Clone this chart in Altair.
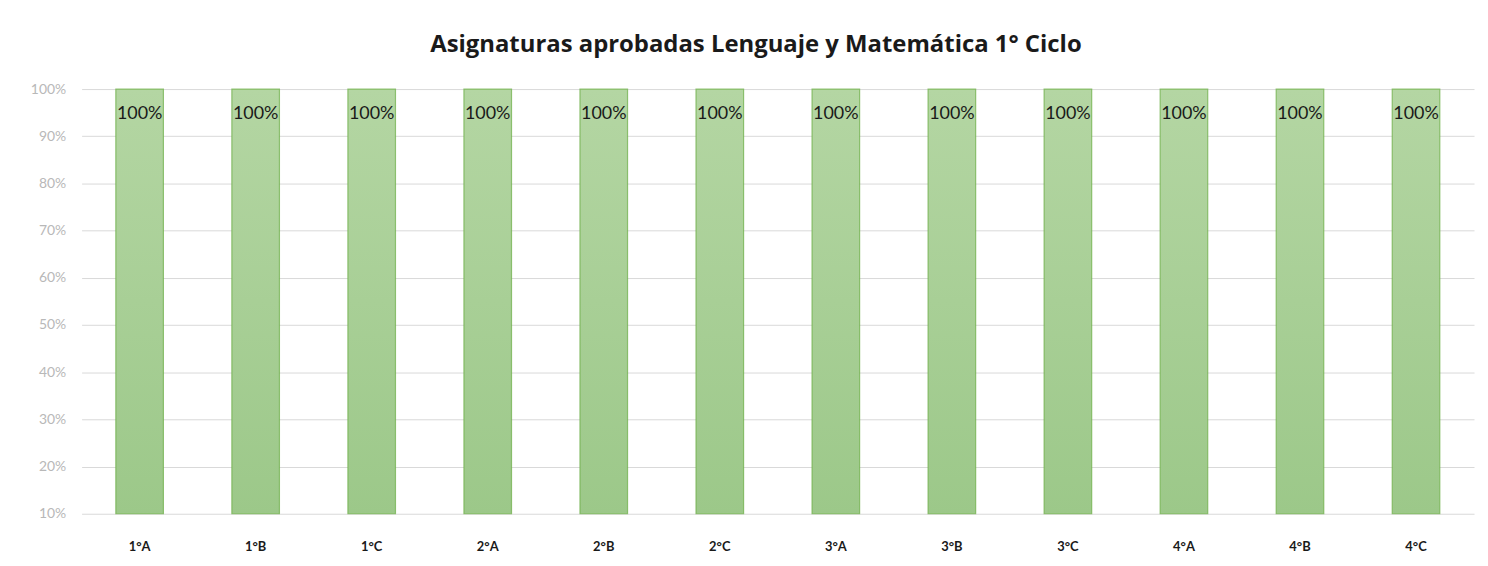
import altair as alt
import pandas as pd

categories = ["1°A", "1°B", "1°C", "2°A", "2°B", "2°C", "3°A", "3°B", "3°C", "4°A", "4°B", "4°C"]
values = [1.0, 1.0, 1.0, 1.0, 1.0, 1.0, 1.0, 1.0, 1.0, 1.0, 1.0, 1.0]
y_ticks = [0.1, 0.2, 0.3, 0.4, 0.5, 0.6, 0.7, 0.8, 0.9, 1.0]

df = pd.DataFrame({"curso": categories, "valor": values})
df["etiqueta"] = [f"{round(v * 100)}%" for v in values]

x_enc = alt.X("curso:N", sort=categories, title=None,
              scale=alt.Scale(paddingInner=0.59, paddingOuter=0.295),
              axis=alt.Axis(labelAngle=0, labelFont="Lato", labelFontWeight="bold",
                            labelFontSize=13, labelColor="#1a1a1a", ticks=False,
                            domain=False, labelPadding=27))
y_scale = alt.Scale(domain=[0.1, 1.0], nice=False, zero=False)

bars = alt.Chart(df).mark_bar(
    fill=alt.Gradient(gradient="linear",
                      stops=[alt.GradientStop(color="#b4d6a3", offset=0),
                             alt.GradientStop(color="#9cc889", offset=1)],
                      x1=0, x2=0, y1=0, y2=1),
    stroke="#70b04c", strokeWidth=1.2, strokeOpacity=0.75,
).encode(
    x=x_enc,
    y=alt.Y("valor:Q", scale=y_scale, title=None,
            axis=alt.Axis(values=y_ticks, format=".0%", labelFont="Lato",
                          labelFontSize=14, labelColor="#b8b8b8", ticks=False,
                          domain=False, gridColor="#d9d9d9", gridWidth=1,
                          labelPadding=16)),
    y2=alt.datum(0.1),
)

labels = alt.Chart(df).mark_text(
    font="Lato", fontSize=18, color="#1a1a1a", baseline="middle", dy=25
).encode(
    x=alt.X("curso:N", sort=categories),
    y=alt.Y("valor:Q", scale=y_scale),
    text="etiqueta:N",
)

chart = (bars + labels).properties(
    width=1400, height=427,
    title=alt.Title("Asignaturas aprobadas Lenguaje y Matemática 1° Ciclo",
                    font="Open Sans", fontSize=24, fontWeight="bold", color="#1a1a1a",
                    anchor="middle", offset=25, dx=-22),
    autosize=alt.AutoSizeParams(type="none"),
    padding={"left": 74, "top": 80, "right": 6, "bottom": 51},
).configure_view(stroke=None)

chart.save("out.html", embed_options={"renderer": "svg", "actions": False})
